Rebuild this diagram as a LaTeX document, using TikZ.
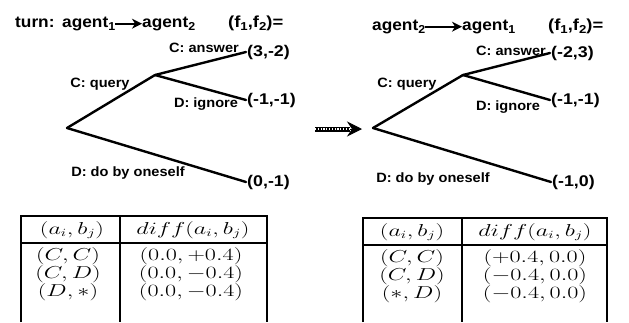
\documentclass[tikz,border=0pt]{standalone}
\usepackage[no-math]{fontspec}
\setmainfont{Liberation Sans}
\usepackage{graphicx}
\usetikzlibrary{arrows.meta}
\newcommand\sx[1]{\scalebox{1.08}[1]{\bfseries #1}}
\newcommand\px[1]{\scalebox{1.15}[1]{\bfseries #1}}
\newcommand\tx[1]{\scalebox{1.4}[1]{#1}}
\newcommand\sbs[1]{\raisebox{-0.45ex}{\fontsize{11.5}{12}\selectfont #1}}
\tikzset{
  hd/.style={inner sep=0pt, font=\fontsize{16}{18}\selectfont},
  pay/.style={inner sep=1pt, anchor=west, font=\fontsize{15.5}{17}\selectfont},
  lab/.style={inner sep=0pt, font=\fontsize{13.5}{15}\selectfont},
  branch/.style={line width=2.4pt, line cap=round},
  harrow/.style={line width=1.8pt, -{Stealth[length=10pt,width=10pt,inset=3pt]}},
  cell/.style={inner sep=0pt, font=\fontsize{16}{18}\selectfont},
  rule/.style={line width=1.5pt},
}
\begin{document}
\begin{tikzpicture}[x=1pt,y=-1pt]
\useasboundingbox (0,0) rectangle (629,322);
% ---------- left header
\node[hd, anchor=base west] (turn) at (15,27) {\sx{turn:}};
\node[hd, anchor=base west] (a1L) at (62,27) {\sx{agent\sbs{1}}};
\node[hd, anchor=base west] (a2L) at (142,27) {\sx{agent\sbs{2}}};
\node[hd, anchor=base west] (fL) at (228,27) {\px{(f\sbs{1},f\sbs{2})=}};
\draw[harrow] (a1L.east) -- (a2L.west);
% ---------- left tree
\coordinate (rootL) at (67,128);
\coordinate (midL) at (155,75);
\node[pay] (pAL) at (246,52) {\px{(3,-2)}};
\node[pay] (pIL) at (246,100) {\px{(-1,-1)}};
\node[pay] (pSL) at (246,182) {\px{(0,-1)}};
\draw[branch] (rootL) -- (midL);
\draw[branch] (midL) -- (pAL.west);
\draw[branch] (midL) -- (pIL.west);
\draw[branch] (rootL) -- (pSL.west);
\node[lab] (lAL) at (204,48) {\sx{C: answer}};
\node[lab] (lQL) at (100,84) {\sx{C: query}};
\node[lab] (lIL) at (206,104) {\sx{D: ignore}};
\node[lab] (lSL) at (128,173) {\sx{D: do by oneself}};
% ---------- big arrow
\coordinate (bigA) at (315,129);
\coordinate (bigB) at (362,129);
\coordinate (bigM) at (350,129);
\draw[line width=5pt] (bigA) -- (bigM);
\draw[white, line width=1.2pt, dash pattern=on 1.2pt off 1.6pt] (bigA) -- (bigM);
\draw[line width=1pt, -{Stealth[length=15pt,width=15pt,inset=5pt]}] (bigM) -- (bigB);
% ---------- right header
\node[hd, anchor=base west] (a2R) at (372,30) {\sx{agent\sbs{2}}};
\node[hd, anchor=base west] (a1R) at (462,30) {\sx{agent\sbs{1}}};
\node[hd, anchor=base west] (fR) at (548,30) {\px{(f\sbs{1},f\sbs{2})=}};
\draw[harrow] (a2R.east) -- (a1R.west);
% ---------- right tree
\coordinate (rootR) at (373,128);
\coordinate (midR) at (463,75);
\node[pay] (pAR) at (550,53) {\px{(-2,3)}};
\node[pay] (pIR) at (550,100) {\px{(-1,-1)}};
\node[pay] (pSR) at (551,182) {\px{(-1,0)}};
\draw[branch] (rootR) -- (midR);
\draw[branch] (midR) -- (pAR.west);
\draw[branch] (midR) -- (pIR.west);
\draw[branch] (rootR) -- (pSR.west);
\node[lab] (lAR) at (511,51) {\sx{C: answer}};
\node[lab] (lQR) at (407,84) {\sx{C: query}};
\node[lab] (lIR) at (508,107) {\sx{D: ignore}};
\node[lab] (lSR) at (433,179) {\sx{D: do by oneself}};
% ---------- left table
\draw[rule] (21,322) -- (21,216) -- (267,216) -- (267,322);
\draw[rule] (21,243) -- (267,243);
\draw[rule] (120,216) -- (120,322);
\node[cell] (tLh1) at (72,230) {\tx{$(a_i,b_j)$}};
\node[cell] (tLh2) at (193,230) {\tx{$diff(a_i,b_j)$}};
\node[cell] (tL11) at (68,256) {\tx{$(C,C)$}};
\node[cell] (tL12) at (191,256) {\tx{$(0.0,+0.4)$}};
\node[cell] (tL21) at (68,274) {\tx{$(C,D)$}};
\node[cell] (tL22) at (191,274) {\tx{$(0.0,-0.4)$}};
\node[cell] (tL31) at (68,292) {\tx{$(D,*)$}};
\node[cell] (tL32) at (191,292) {\tx{$(0.0,-0.4)$}};
% ---------- right table
\draw[rule] (363,322) -- (363,218) -- (607,218) -- (607,322);
\draw[rule] (363,245) -- (607,245);
\draw[rule] (462,218) -- (462,322);
\node[cell] (tRh1) at (412,232) {\tx{$(a_i,b_j)$}};
\node[cell] (tRh2) at (535,232) {\tx{$diff(a_i,b_j)$}};
\node[cell] (tR11) at (412,258) {\tx{$(C,C)$}};
\node[cell] (tR12) at (535,258) {\tx{$(+0.4,0.0)$}};
\node[cell] (tR21) at (412,276) {\tx{$(C,D)$}};
\node[cell] (tR22) at (535,276) {\tx{$(-0.4,0.0)$}};
\node[cell] (tR31) at (412,294) {\tx{$(*,D)$}};
\node[cell] (tR32) at (535,294) {\tx{$(-0.4,0.0)$}};
\end{tikzpicture}
\end{document}
